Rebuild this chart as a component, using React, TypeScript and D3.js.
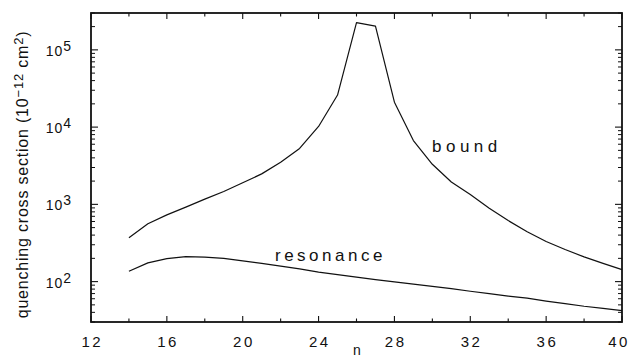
import React from 'react';
import * as d3 from 'd3';

// Principal quantum number n
const nLevels = [14, 15, 16, 17, 18, 19, 20, 21, 22, 23, 24, 25, 26, 27, 28, 29, 30, 31, 32, 33, 34, 35, 36, 37, 38, 39, 40];

// Quenching cross sections (10^-12 cm^2)
const boundSection = [370, 560, 730, 920, 1170, 1470, 1900, 2480, 3500, 5300, 10200, 26000, 225000, 203000, 21000, 6700, 3300, 1950, 1340, 890, 617, 442, 331, 260, 209, 172, 143];
const resonanceSection = [136, 175, 198, 210, 208, 200, 186, 172, 159, 146, 133, 123, 114, 106, 99, 93, 87, 81, 75, 70, 65, 61, 56, 52, 48, 45, 42];

const xLabelTicks = [12, 16, 20, 24, 28, 32, 36, 40];
const xMinorTicks = [14, 18, 22, 26, 30, 34, 38];
const yDecadeTicks = [100, 1000, 10000, 100000];
const yDecadeExponents = ['2', '3', '4', '5'];
const xDomain = [12, 40];
const yDomain = [30, 300000];

const W = 632;
const H = 358;
const plot = { left: 91, right: 622, top: 13, bottom: 322 };

export default function App() {
  const x = d3.scaleLinear().domain(xDomain).range([plot.left, plot.right]);
  const y = d3.scaleLog().domain(yDomain).range([plot.bottom, plot.top]);

  const sectionLine = d3
    .line<number>()
    .x((_, i) => x(nLevels[i]))
    .y((d) => y(d));

  const minorY: number[] = [];
  [10, 100, 1000, 10000, 100000].forEach((dec) => {
    for (let k = 2; k <= 9; k++) {
      const v = dec * k;
      if (v >= yDomain[0] && v <= yDomain[1]) minorY.push(v);
    }
  });

  const font = "'Liberation Sans', Arial, sans-serif";
  const axisStroke = '#111';
  const xLabelSpacing = 2.5;

  return (
    <svg
      width={W}
      height={H}
      viewBox={`0 0 ${W} ${H}`}
      style={{ position: 'fixed', left: 0, top: 0, background: '#fff' }}
    >
      <rect x={0} y={0} width={W} height={H} fill="#fff" />

      {/* curves */}
      <path d={sectionLine(boundSection) || ''} fill="none" stroke="#111" strokeWidth={1.2} strokeLinejoin="round" />
      <path d={sectionLine(resonanceSection) || ''} fill="none" stroke="#111" strokeWidth={1.2} strokeLinejoin="round" />

      {/* x ticks, bottom and top, pointing inward */}
      {xLabelTicks.map((t) => (
        <g key={`xm${t}`}>
          <line x1={x(t)} x2={x(t)} y1={plot.bottom} y2={plot.bottom - 6} stroke={axisStroke} strokeWidth={1.1} />
          <line x1={x(t)} x2={x(t)} y1={plot.top} y2={plot.top + 6} stroke={axisStroke} strokeWidth={1.1} />
        </g>
      ))}
      {xMinorTicks.map((t) => (
        <g key={`xn${t}`}>
          <line x1={x(t)} x2={x(t)} y1={plot.bottom} y2={plot.bottom - 3.5} stroke={axisStroke} strokeWidth={1.1} />
          <line x1={x(t)} x2={x(t)} y1={plot.top} y2={plot.top + 3.5} stroke={axisStroke} strokeWidth={1.1} />
        </g>
      ))}

      {/* y ticks, left and right */}
      {yDecadeTicks.map((t) => (
        <g key={`ym${t}`}>
          <line x1={plot.left} x2={plot.left + 7} y1={y(t)} y2={y(t)} stroke={axisStroke} strokeWidth={1.1} />
          <line x1={plot.right} x2={plot.right - 7} y1={y(t)} y2={y(t)} stroke={axisStroke} strokeWidth={1.1} />
        </g>
      ))}
      {minorY.map((t) => (
        <g key={`yn${t}`}>
          <line x1={plot.left} x2={plot.left + 4} y1={y(t)} y2={y(t)} stroke={axisStroke} strokeWidth={1} />
          <line x1={plot.right} x2={plot.right - 4} y1={y(t)} y2={y(t)} stroke={axisStroke} strokeWidth={1} />
        </g>
      ))}

      {/* frame */}
      <rect
        x={plot.left}
        y={plot.top}
        width={plot.right - plot.left}
        height={plot.bottom - plot.top}
        fill="none"
        stroke={axisStroke}
        strokeWidth={1.8}
      />

      {/* x tick labels */}
      {xLabelTicks.map((t) => (
        <text
          key={`xl${t}`}
          x={Math.min(x(t) + xLabelSpacing / 2, 619)}
          y={347}
          textAnchor="middle"
          fontFamily={font}
          fontSize={15}
          letterSpacing={xLabelSpacing}
          fill="#111"
        >
          {t}
        </text>
      ))}

      {/* y tick labels */}
      {yDecadeTicks.map((t, i) => (
        <text
          key={`yl${t}`}
          x={72}
          y={y(t) + 6}
          textAnchor="end"
          fontFamily={font}
          fontSize={14}
          letterSpacing={1}
          fill="#111"
        >
          10
          <tspan fontSize={14} dy={-5}>
            {yDecadeExponents[i]}
          </tspan>
        </text>
      ))}

      {/* axis titles */}
      <text x={357} y={354.5} textAnchor="middle" fontFamily={font} fontSize={14} fill="#111">
        n
      </text>
      <text
        transform="translate(27.5,174.5) rotate(-90)"
        textAnchor="middle"
        fontFamily={font}
        fontSize={16}
        letterSpacing={0.8}
        fill="#111"
      >
        quenching cross section (10
        <tspan fontSize={13} dy={-5}>−12</tspan>
        <tspan dy={5}> cm</tspan>
        <tspan fontSize={13} dy={-5}>2</tspan>
        <tspan dy={5}>)</tspan>
      </text>

      {/* curve labels */}
      <text x={432} y={151.7} fontFamily={font} fontSize={17} letterSpacing={4.5} fill="#111">
        bound
      </text>
      <text x={275} y={260.7} fontFamily={font} fontSize={17} letterSpacing={3.5} fill="#111">
        resonance
      </text>
    </svg>
  );
}
